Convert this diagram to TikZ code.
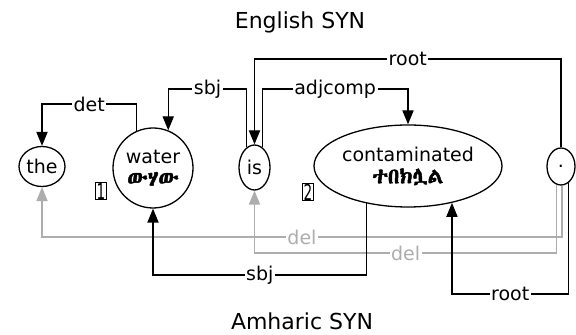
\documentclass[tikz,border=0pt]{standalone}
\usepackage{fontspec}
\setmainfont{DejaVu Sans}
\newfontfamily\ethfont[FakeBold=2.2]{Abyssinica SIL}
\usetikzlibrary{arrows.meta,shapes.geometric}
\definecolor{delgray}{gray}{0.68}
\tikzset{
  word/.style={ellipse, draw, line width=0.65pt, inner sep=0pt, align=center,
    font=\fontsize{9.5}{11}\selectfont},
  dep/.style={-{Triangle[length=7pt,width=5.6pt]}, line width=0.65pt},
  deldep/.style={dep, delgray},
  lbl/.style={fill=white, inner sep=0.8pt, font=\fontsize{9.5}{11}\selectfont},
  dellbl/.style={lbl, text=delgray},
  numbox/.style={draw, line width=0.5pt, inner sep=0.4pt, font=\fontsize{11}{11}\selectfont},
  title/.style={font=\fontsize{11}{13}\selectfont}
}
\newcommand{\amh}[1]{{\ethfont\fontsize{10.8}{12}\selectfont #1}}
\newcommand{\num}[1]{\scalebox{0.62}[1]{#1}}

\begin{document}
\begin{tikzpicture}[x=0.5pt, y=-0.5pt]
  \useasboundingbox (0,0) rectangle (576,335);

  \node[title] (eng) at (300,22) {English SYN};
  \node[title] (amh) at (302,321) {Amharic SYN};

  % words
  \node[word, minimum width=23pt, minimum height=20pt] (the) at (42,166.5) {the};
  \node[word, circle, minimum size=40pt] (water) at (153,168) {water\\\amh{ውሃው}};
  \node[word, minimum width=15.5pt, minimum height=22.5pt] (is) at (254.5,167.5) {is};
  \node[word, minimum width=94pt, minimum height=41pt] (cont) at (408,166) {contaminated\\\amh{ተበክሏል}};
  \node[word, minimum width=14pt, minimum height=18.5pt] (dot) at (561,166.5) {.};

  \node[numbox] (n1) at (101,191) {\num{1}};
  \node[numbox] (n2) at (308,192) {\num{2}};

  % levels
  \coordinate (yroot) at (0,59);
  \coordinate (ysbj) at (0,89);
  \coordinate (ydet) at (0,104);
  \coordinate (ydelA) at (0,237);
  \coordinate (ydelB) at (0,253);
  \coordinate (ysbjB) at (0,275);
  \coordinate (yrootB) at (0,294);

  % Amharic deletions
  \draw[deldep] (dot.-87) -- (dot.-87 |- ydelA) -| node[dellbl, pos=.25] {del} (the.south);
  \draw[deldep] (dot.257) -- (dot.257 |- ydelB) -| node[dellbl, pos=.25] {del} (is.south);

  % English SYN
  \draw[dep] (water.114) -- (water.114 |- ydet) -| node[lbl, pos=.25] {det} (the.north);
  \draw[dep] (is.111) -- (is.111 |- ysbj) -| node[lbl, pos=.25] {sbj} (water.68);
  \draw[dep] (is.69) -- (is.69 |- ysbj) -| node[lbl, pos=.25] {adjcomp} (cont.north);
  \draw[dep] (dot.north) -- (dot.north |- yroot) -| node[lbl, pos=.25] {root} (is.north);

  % Amharic SYN
  \draw[dep] (cont.222) -- (cont.222 |- ysbjB) -| node[lbl, pos=.25] {sbj} (water.south);
  \draw[dep] (dot.294) -- (dot.294 |- yrootB) -| node[lbl, pos=.25] {root} (cont.-40.3);
\end{tikzpicture}
\end{document}
